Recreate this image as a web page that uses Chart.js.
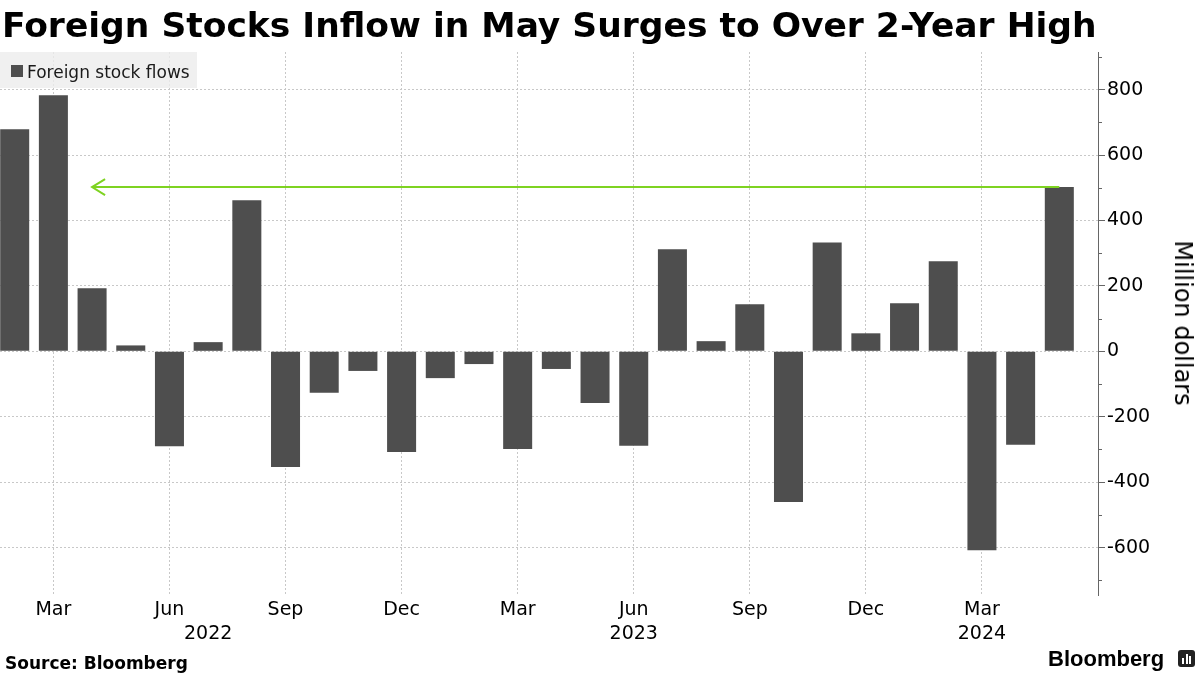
<!DOCTYPE html>
<html>
<head>
<meta charset="utf-8">
<script src="https://cdn.jsdelivr.net/npm/chart.js@4.4.1/dist/chart.umd.min.js"></script>
<style>
html,body{margin:0;padding:0;background:#fff;}
#wrap{position:relative;width:1200px;height:675px;overflow:hidden;font-family:"DejaVu Sans",sans-serif;color:#000;}
#c{position:absolute;left:0;top:0;}
#title{position:absolute;left:2px;top:5px;font-weight:bold;font-size:34.5px;line-height:40px;white-space:nowrap;color:#000;}
#legend{position:absolute;left:0;top:52px;width:197px;height:36px;background:rgba(236,236,236,0.8);}
#legend .sw{position:absolute;left:11px;top:13px;width:12px;height:12px;background:#4e4e4e;}
#legend .tx{position:absolute;left:27px;top:10px;font-size:17px;line-height:20px;white-space:nowrap;color:#1a1a1a;}
#ytitle{position:absolute;left:1183px;top:323px;transform:translate(-50%,-50%) rotate(90deg);font-size:24px;line-height:28px;white-space:nowrap;color:#000;}
#source{position:absolute;left:5px;top:653px;font-weight:bold;font-size:17px;line-height:20px;white-space:nowrap;}
#logo{position:absolute;left:1048px;top:647px;font-family:"Liberation Sans",Arial,sans-serif;font-weight:bold;font-size:22px;line-height:24px;white-space:nowrap;}
#icon{position:absolute;left:1178px;top:650px;width:17px;height:17px;background:#222;border-radius:3px;}
#icon i{position:absolute;bottom:3px;width:2px;background:#fff;}
</style>
</head>
<body>
<div id="wrap">
  <canvas id="c" width="1200" height="675"></canvas>
  <div id="title">Foreign Stocks Inflow in May Surges to Over 2-Year High</div>
  <div id="legend"><span class="sw"></span><span class="tx">Foreign stock flows</span></div>
  <div id="ytitle">Million dollars</div>
  <div id="source">Source: Bloomberg</div>
  <div id="logo">Bloomberg</div>
  <div id="icon"><i style="left:4px;height:6px"></i><i style="left:7.5px;height:10px"></i><i style="left:11px;height:8px"></i></div>
</div>
<script>
// ---- data ----
const months = ['2022-02','2022-03','2022-04','2022-05','2022-06','2022-07','2022-08','2022-09','2022-10','2022-11','2022-12',
                '2023-01','2023-02','2023-03','2023-04','2023-05','2023-06','2023-07','2023-08','2023-09','2023-10','2023-11','2023-12',
                '2024-01','2024-02','2024-03','2024-04','2024-05'];
const flows = [679, 783, 193, 18, -290, 28, 462, -354, -127, -60, -308,
               -82, -39, -299, -54, -158, -289, 312, 31, 144, -461, 333, 55,
               147, 275, -608, -286, 502];
const monthAbbr = ['Jan','Feb','Mar','Apr','May','Jun','Jul','Aug','Sep','Oct','Nov','Dec'];
const tickMonthNums = [3, 6, 9, 12];
const yearLabels = ['2022', '2023', '2024'];
const yearAnchors = ['2022-07', '2023-06', '2024-03'];
const yTickValues = [-700,-600,-500,-400,-300,-200,-100,0,100,200,300,400,500,600,700,800,900];
const yLabelStep = 200;
const arrowFromMonth = '2024-05';
const arrowToMonth = '2022-04';

// ---- derived ----
const points = flows.map((v, i) => ({x: i, y: v}));
const xTickIdx = months.map((m, i) => tickMonthNums.includes(+m.slice(5)) ? i : -1).filter(i => i >= 0);

const extras = {
  id: 'extras',
  afterDatasetsDraw(chart) {
    const ctx = chart.ctx, xs = chart.scales.x, ys = chart.scales.y;
    const iFrom = months.indexOf(arrowFromMonth), iTo = months.indexOf(arrowToMonth);
    const yv = ys.getPixelForValue(flows[iFrom]);
    const x1 = xs.getPixelForValue(iFrom), x2 = xs.getPixelForValue(iTo);
    ctx.save();
    ctx.strokeStyle = '#7ed321';
    ctx.lineWidth = 2;
    ctx.beginPath();
    ctx.moveTo(x1, yv); ctx.lineTo(x2, yv);
    ctx.moveTo(x2 + 13, yv - 8); ctx.lineTo(x2, yv); ctx.lineTo(x2 + 13, yv + 8);
    ctx.stroke();
    ctx.restore();
  },
  afterDraw(chart) {
    const ctx = chart.ctx, xs = chart.scales.x, ys = chart.scales.y;
    ctx.save();
    ctx.strokeStyle = '#666';
    ctx.lineWidth = 1;
    yTickValues.forEach(v => {
      if (v % yLabelStep !== 0) {
        const p = Math.round(ys.getPixelForValue(v)) + 0.5;
        ctx.beginPath(); ctx.moveTo(ys.left, p); ctx.lineTo(ys.left + 4, p); ctx.stroke();
      }
    });
    ctx.fillStyle = '#000';
    ctx.font = '19px "DejaVu Sans"';
    ctx.textAlign = 'center';
    ctx.textBaseline = 'middle';
    yearLabels.forEach((t, k) => {
      const px = xs.getPixelForValue(months.indexOf(yearAnchors[k]));
      ctx.fillText(t, px, 634);
    });
    ctx.restore();
  }
};

new Chart(document.getElementById('c'), {
  type: 'bar',
  data: {
    datasets: [{
      label: 'Foreign stock flows',
      data: points,
      backgroundColor: '#4e4e4e',
      borderWidth: 0,
      barPercentage: 0.75,
      categoryPercentage: 1.0
    }]
  },
  options: {
    responsive: false,
    devicePixelRatio: 1,
    animation: false,
    layout: {padding: {top: 52, left: 0, right: 0, bottom: 0}},
    plugins: {legend: {display: false}, tooltip: {enabled: false}, title: {display: false}},
    scales: {
      x: {
        type: 'linear',
        offset: false,
        min: -0.38,
        max: 28.0,
        afterBuildTicks(scale) { scale.ticks = xTickIdx.map(v => ({value: v})); },
        afterFit(scale) { scale.height = 80; },
        ticks: {
          autoSkip: false,
          maxRotation: 0,
          padding: 4,
          color: '#000',
          font: {family: 'DejaVu Sans', size: 19},
          callback: (v) => monthAbbr[+months[v].slice(5) - 1]
        },
        grid: {color: '#c8c8c8', drawTicks: false, lineWidth: 1, offset: false},
        border: {display: false, dash: [2, 2]}
      },
      y: {
        position: 'right',
        min: -745,
        max: 915,
        afterBuildTicks(scale) { scale.ticks = yTickValues.map(v => ({value: v})); },
        afterFit(scale) { scale.width = 102; },
        ticks: {
          autoSkip: false,
          padding: 2,
          color: '#000',
          font: {family: 'DejaVu Sans', size: 19},
          callback: (v) => (v % yLabelStep === 0 && v <= 800) ? String(v) : ''
        },
        grid: {
          color: (c) => (c.tick && c.tick.value % yLabelStep === 0) ? '#c8c8c8' : 'rgba(0,0,0,0)',
          tickColor: (c) => (c.tick && c.tick.value % yLabelStep === 0) ? '#666' : 'rgba(0,0,0,0)',
          tickLength: 7,
          lineWidth: 1
        },
        border: {display: true, color: '#666', width: 1, dash: [2, 2]}
      }
    }
  },
  plugins: [extras]
});
</script>
</body>
</html>
